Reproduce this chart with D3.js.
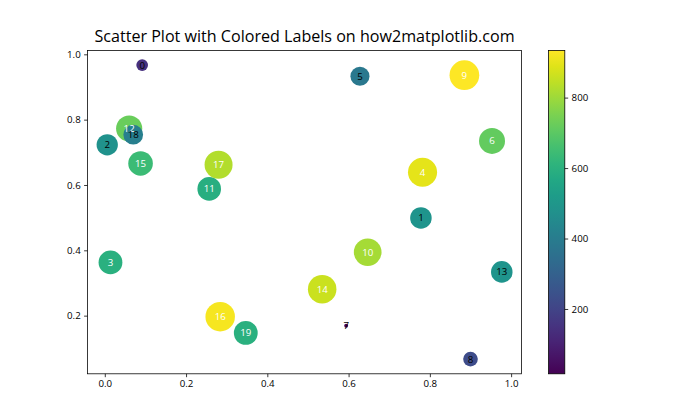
<!DOCTYPE html>
<html>
<head>
<meta charset="utf-8">
<script src="https://cdn.jsdelivr.net/npm/d3@7"></script>
<style>
  html, body { margin: 0; padding: 0; background: #fff; }
  svg { display: block; }
  text { font-family: "Open Sans", "Noto Sans", sans-serif; }
</style>
</head>
<body>
<svg id="chart" width="700" height="420"></svg>
<script>
// ---- data ----
const labels = ["0","1","2","3","4","5","6","7","8","9","10","11","12","13","14","15","16","17","18","19"];
const xValues = [0.092, 0.778, 0.006, 0.014, 0.782, 0.628, 0.953, 0.594, 0.900, 0.885,
                 0.647, 0.257, 0.060, 0.977, 0.535, 0.088, 0.284, 0.280, 0.070, 0.347];
const yValues = [0.967, 0.499, 0.723, 0.363, 0.639, 0.933, 0.735, 0.169, 0.067, 0.936,
                 0.394, 0.588, 0.773, 0.334, 0.281, 0.666, 0.197, 0.662, 0.754, 0.147];
const sizes   = [145, 490, 480, 600, 895, 385, 715, 16, 227, 934,
                 810, 590, 725, 490, 860, 640, 920, 830, 410, 600];
const xTicks = [0.0, 0.2, 0.4, 0.6, 0.8, 1.0];
const yTicks = [0.2, 0.4, 0.6, 0.8, 1.0];
const cTicks = [200, 400, 600, 800];
const title = "Scatter Plot with Colored Labels on how2matplotlib.com";

// ---- layout ----
const W = 700, H = 420;
const L = 87.5, R = 521.5, T = 50.4, B = 373.8;
const cbL = 548.6, cbW = 16.2;
const px = 70 / 72;

const svg = d3.select("#chart");

function padded(ext) {
  const m = (ext[1] - ext[0]) * 0.05;
  return [ext[0] - m, ext[1] + m];
}
const x = d3.scaleLinear().domain(padded(d3.extent(xValues))).range([L, R]);
const y = d3.scaleLinear().domain(padded(d3.extent(yValues))).range([B, T]);
const cExt = d3.extent(sizes);
const color = d3.scaleSequential(d3.interpolateViridis).domain(cExt);
const cy = d3.scaleLinear().domain(cExt).range([B, T]);

const data = labels.map((l, i) => ({ label: l, x: xValues[i], y: yValues[i], s: sizes[i] }));

// points
svg.append("g").selectAll("circle").data(data).enter().append("circle")
  .attr("cx", d => x(d.x)).attr("cy", d => y(d.y))
  .attr("r", d => Math.sqrt(d.s) / 2 * px)
  .attr("fill", d => color(d.s));

// labels
svg.append("g").selectAll("text").data(data).enter().append("text")
  .attr("x", d => x(d.x)).attr("y", d => y(d.y))
  .attr("text-anchor", "middle").attr("dominant-baseline", "central")
  .attr("font-size", 9.7)
  .attr("fill", d => d.s > 500 ? "#ffffff" : "#000000")
  .text(d => d.label);

// axes
const tickLen = 3.5 * px, tickPad = 3.5 * px;
const gx = svg.append("g").attr("transform", `translate(0,${B})`)
  .call(d3.axisBottom(x).tickValues(xTicks).tickFormat(d3.format(".1f")).tickSizeInner(tickLen).tickSizeOuter(0).tickPadding(tickPad));
const gy = svg.append("g").attr("transform", `translate(${L},0)`)
  .call(d3.axisLeft(y).tickValues(yTicks).tickFormat(d3.format(".1f")).tickSizeInner(tickLen).tickSizeOuter(0).tickPadding(tickPad));
[gx, gy].forEach(g => {
  g.select(".domain").remove();
  g.selectAll("line").attr("stroke", "#000").attr("stroke-width", 0.8 * px);
  g.selectAll("text").attr("font-size", 9.7).attr("fill", "#000").attr("font-family", "'Open Sans', sans-serif");
});

// frame
svg.append("rect").attr("x", L).attr("y", T).attr("width", R - L).attr("height", B - T)
  .attr("fill", "none").attr("stroke", "#000").attr("stroke-width", 0.8 * px);

// colorbar gradient
const defs = svg.append("defs");
const grad = defs.append("linearGradient").attr("id", "vir")
  .attr("x1", 0).attr("y1", 1).attr("x2", 0).attr("y2", 0);
d3.range(0, 1.0001, 0.05).forEach(t => {
  grad.append("stop").attr("offset", t).attr("stop-color", d3.interpolateViridis(t));
});
svg.append("rect").attr("x", cbL).attr("y", T).attr("width", cbW).attr("height", B - T)
  .attr("fill", "url(#vir)");
svg.append("rect").attr("x", cbL).attr("y", T).attr("width", cbW).attr("height", B - T)
  .attr("fill", "none").attr("stroke", "#000").attr("stroke-width", 0.8 * px);
const gc = svg.append("g").attr("transform", `translate(${cbL + cbW},0)`)
  .call(d3.axisRight(cy).tickValues(cTicks).tickFormat(d3.format("d")).tickSizeInner(tickLen).tickSizeOuter(0).tickPadding(tickPad));
gc.select(".domain").remove();
gc.selectAll("line").attr("stroke", "#000").attr("stroke-width", 0.8 * px);
gc.selectAll("text").attr("font-size", 9.7).attr("fill", "#000").attr("font-family", "'Open Sans', sans-serif");

// title
svg.append("text").attr("x", (L + R) / 2).attr("y", 42)
  .attr("text-anchor", "middle").attr("font-size", 16.1).attr("fill", "#000")
  .text(title);
</script>
</body>
</html>
